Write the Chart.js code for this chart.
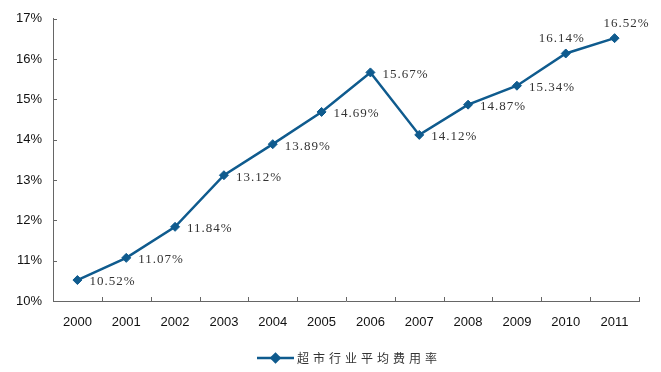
<!DOCTYPE html>
<html>
<head>
<meta charset="utf-8">
<script src="https://cdn.jsdelivr.net/npm/chart.js@4.4.0/dist/chart.umd.min.js"></script>
<style>
    body { margin: 0; background: #fff; }
    #wrap { width: 661px; height: 372px; }
</style>
</head>
<body>
<div id="wrap"><canvas id="chart-rate" width="661" height="372"></canvas></div>
<script>
var years = ['2000','2001','2002','2003','2004','2005','2006','2007','2008','2009','2010','2011'];
var expenseRate = [10.52, 11.07, 11.84, 13.12, 13.89, 14.69, 15.67, 14.12, 14.87, 15.34, 16.14, 16.52];
var seriesName = '超市行业平均费用率';
var yMin = 10, yMax = 17, yStep = 1;

var lineColor = '#0F5B8E';
var axisColor = '#666666';

// short tick marks pointing into the plot area
var innerTicks = {
    id: 'innerTicks',
    afterDraw: function (chart) {
        let ctx = chart.ctx;
        let area = chart.chartArea;
        let x = chart.scales.x, y = chart.scales.y;
        ctx.save();
        ctx.strokeStyle = axisColor;
        ctx.lineWidth = 1;
        ctx.beginPath();
        y.ticks.forEach(t => {
            let py = Math.round(y.getPixelForValue(t.value)) + 0.5;
            ctx.moveTo(area.left, py);
            ctx.lineTo(area.left + 4, py);
        });
        let step = x.getPixelForValue(1) - x.getPixelForValue(0);
        for (let i = 0; i <= years.length; i++) {
            let px = Math.round(x.getPixelForValue(i) - step / 2) + 0.5;
            ctx.moveTo(px, area.bottom);
            ctx.lineTo(px, area.bottom - 4);
        }
        ctx.stroke();
        ctx.restore();
    }
};

// value labels next to each point
var valueLabels = {
    id: 'valueLabels',
    afterDatasetsDraw: function (chart) {
        let ctx = chart.ctx;
        let meta = chart.getDatasetMeta(0);
        let values = chart.data.datasets[0].data;
        let last = values.length - 1;
        ctx.save();
        ctx.font = '13px "Liberation Serif"';
        ctx.letterSpacing = '1px';
        ctx.fillStyle = '#333333';
        ctx.textBaseline = 'middle';
        meta.data.forEach((pt, i) => {
            let text = values[i].toFixed(2) + '%';
            if (i >= last - 1) {
                ctx.textAlign = 'center';
                ctx.fillText(text, pt.x + (i === last ? 12 : -4), pt.y - 15);
            } else {
                ctx.textAlign = 'left';
                ctx.fillText(text, pt.x + 12, pt.y + 2);
            }
        });
        ctx.restore();
    }
};

// legend: line with diamond, then series name
var bottomLegend = {
    id: 'bottomLegend',
    afterDraw: function (chart) {
        let ctx = chart.ctx;
        let ly = 358;
        ctx.save();
        ctx.strokeStyle = lineColor;
        ctx.lineWidth = 2.5;
        ctx.beginPath();
        ctx.moveTo(257, ly);
        ctx.lineTo(294, ly);
        ctx.stroke();
        ctx.fillStyle = lineColor;
        Chart.helpers.drawPoint(ctx, { pointStyle: 'rectRot', radius: 4, rotation: 0, borderWidth: 1 }, 275.5, ly);
        ctx.font = '12px "Noto Sans CJK SC"';
        ctx.letterSpacing = '4px';
        ctx.fillStyle = '#333333';
        ctx.textAlign = 'left';
        ctx.textBaseline = 'middle';
        ctx.fillText(chart.data.datasets[0].label, 297, ly);
        ctx.restore();
    }
};

var ctx = document.getElementById('chart-rate').getContext('2d');
new Chart(ctx, {
    type: 'line',
    data: {
        labels: years,
        datasets: [{
            label: seriesName,
            data: expenseRate,
            borderColor: lineColor,
            backgroundColor: lineColor,
            borderWidth: 2.5,
            tension: 0,
            pointStyle: 'rectRot',
            pointRadius: 4.5,
            pointBorderWidth: 1,
            pointBackgroundColor: lineColor,
            pointBorderColor: lineColor
        }]
    },
    options: {
        responsive: false,
        animation: false,
        layout: { padding: { top: 17, right: 22, bottom: 31, left: 0 } },
        plugins: {
            legend: { display: false },
            tooltip: { enabled: false }
        },
        scales: {
            x: {
                offset: true,
                grid: { display: false, drawTicks: false },
                border: { display: true, color: axisColor, width: 1 },
                ticks: {
                    color: '#111111',
                    padding: 14,
                    maxRotation: 0,
                    font: { family: '"Liberation Sans"', size: 13 }
                },
                afterFit: function (scale) { scale.height = 40; }
            },
            y: {
                min: yMin,
                max: yMax,
                grid: { display: false, drawTicks: false },
                border: { display: true, color: axisColor, width: 1 },
                ticks: {
                    stepSize: yStep,
                    color: '#111111',
                    padding: 11,
                    font: { family: '"Liberation Sans"', size: 13 },
                    callback: v => v + '%'
                },
                afterFit: function (scale) { scale.width = 53; }
            }
        }
    },
    plugins: [innerTicks, valueLabels, bottomLegend]
});
</script>
</body>
</html>
